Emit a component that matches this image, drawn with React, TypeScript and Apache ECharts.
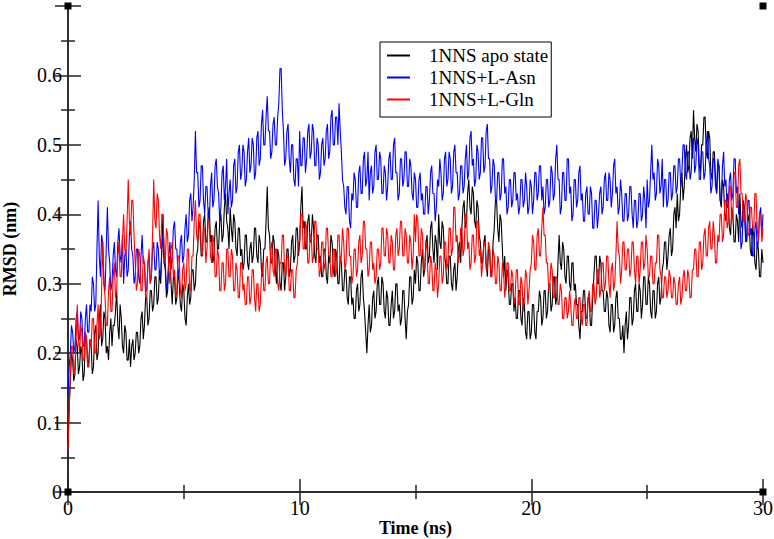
import React, { useEffect, useRef } from "react";
import * as echarts from "echarts";

// Time axis sampling (ns)
const TIME_STEP = 0.05;
const X_TICKS = [0, 10, 20, 30];
const Y_TICKS = [0, 0.1, 0.2, 0.3, 0.4, 0.5, 0.6];
const SERIES_NAMES = ["1NNS apo state", "1NNS+L-Asn", "1NNS+L-Gln"];
const SERIES_COLORS = ["#000000", "#0000ff", "#ff0000"];

// RMSD (nm), one row per ns (20 samples per row)
const apo = [
  0.07, 0.12, 0.16, 0.20, 0.19, 0.16, 0.17, 0.22, 0.21, 0.17, 0.18, 0.21, 0.20, 0.16, 0.17, 0.23, 0.22, 0.18, 0.19, 0.22,
  0.21, 0.17, 0.18, 0.23, 0.24, 0.19, 0.20, 0.25, 0.27, 0.21, 0.22, 0.26, 0.25, 0.20, 0.21, 0.19, 0.23, 0.25, 0.21, 0.24,
  0.24, 0.26, 0.29, 0.24, 0.22, 0.27, 0.25, 0.21, 0.20, 0.24, 0.23, 0.19, 0.19, 0.22, 0.18, 0.21, 0.22, 0.19, 0.20, 0.23,
  0.23, 0.20, 0.21, 0.25, 0.26, 0.22, 0.24, 0.28, 0.28, 0.24, 0.25, 0.29, 0.29, 0.26, 0.27, 0.31, 0.31, 0.27, 0.28, 0.32,
  0.30, 0.35, 0.40, 0.33, 0.32, 0.28, 0.29, 0.33, 0.34, 0.30, 0.27, 0.31, 0.31, 0.27, 0.28, 0.32, 0.30, 0.27, 0.26, 0.30,
  0.29, 0.25, 0.24, 0.28, 0.30, 0.27, 0.28, 0.32, 0.32, 0.29, 0.30, 0.34, 0.35, 0.39, 0.38, 0.34, 0.34, 0.39, 0.40, 0.36,
  0.36, 0.40, 0.41, 0.36, 0.37, 0.33, 0.34, 0.38, 0.39, 0.35, 0.35, 0.39, 0.40, 0.36, 0.37, 0.41, 0.43, 0.39, 0.38, 0.35,
  0.41, 0.38, 0.36, 0.40, 0.39, 0.35, 0.34, 0.38, 0.38, 0.34, 0.35, 0.32, 0.33, 0.37, 0.37, 0.33, 0.32, 0.35, 0.36, 0.33,
  0.34, 0.38, 0.38, 0.34, 0.33, 0.37, 0.36, 0.32, 0.31, 0.35, 0.35, 0.39, 0.44, 0.38, 0.37, 0.33, 0.33, 0.37, 0.36, 0.32,
  0.30, 0.35, 0.34, 0.30, 0.29, 0.33, 0.33, 0.29, 0.31, 0.35, 0.35, 0.31, 0.32, 0.36, 0.37, 0.33, 0.34, 0.38, 0.38, 0.34,
  0.36, 0.41, 0.44, 0.38, 0.39, 0.35, 0.35, 0.39, 0.40, 0.36, 0.36, 0.40, 0.38, 0.34, 0.33, 0.37, 0.37, 0.33, 0.34, 0.31,
  0.31, 0.35, 0.35, 0.31, 0.30, 0.34, 0.33, 0.37, 0.36, 0.32, 0.31, 0.35, 0.34, 0.30, 0.30, 0.34, 0.33, 0.29, 0.29, 0.32,
  0.32, 0.28, 0.27, 0.31, 0.31, 0.27, 0.28, 0.25, 0.25, 0.29, 0.30, 0.26, 0.27, 0.31, 0.32, 0.28, 0.26, 0.23, 0.20, 0.24,
  0.27, 0.23, 0.24, 0.28, 0.29, 0.25, 0.26, 0.30, 0.31, 0.27, 0.27, 0.31, 0.30, 0.26, 0.25, 0.29, 0.28, 0.24, 0.24, 0.27,
  0.29, 0.25, 0.26, 0.30, 0.30, 0.26, 0.27, 0.24, 0.25, 0.29, 0.29, 0.25, 0.22, 0.26, 0.27, 0.31, 0.31, 0.27, 0.28, 0.32,
  0.30, 0.34, 0.33, 0.29, 0.29, 0.33, 0.35, 0.31, 0.32, 0.36, 0.37, 0.33, 0.34, 0.38, 0.39, 0.35, 0.33, 0.37, 0.36, 0.32,
  0.40, 0.36, 0.35, 0.39, 0.38, 0.34, 0.33, 0.30, 0.30, 0.34, 0.34, 0.30, 0.29, 0.32, 0.33, 0.29, 0.31, 0.35, 0.36, 0.33,
  0.38, 0.41, 0.42, 0.38, 0.39, 0.43, 0.45, 0.41, 0.40, 0.44, 0.43, 0.39, 0.38, 0.42, 0.41, 0.37, 0.36, 0.33, 0.33, 0.36,
  0.37, 0.33, 0.31, 0.35, 0.35, 0.31, 0.32, 0.36, 0.38, 0.42, 0.42, 0.38, 0.36, 0.40, 0.39, 0.35, 0.31, 0.34, 0.29, 0.32,
  0.31, 0.27, 0.27, 0.30, 0.30, 0.26, 0.28, 0.25, 0.25, 0.29, 0.29, 0.25, 0.24, 0.28, 0.27, 0.23, 0.22, 0.26, 0.26, 0.22,
  0.23, 0.27, 0.27, 0.23, 0.22, 0.26, 0.26, 0.29, 0.28, 0.24, 0.25, 0.29, 0.29, 0.25, 0.26, 0.30, 0.30, 0.26, 0.27, 0.31,
  0.31, 0.27, 0.28, 0.33, 0.37, 0.33, 0.32, 0.36, 0.35, 0.31, 0.30, 0.34, 0.34, 0.30, 0.29, 0.33, 0.33, 0.29, 0.30, 0.27,
  0.27, 0.24, 0.22, 0.26, 0.26, 0.29, 0.29, 0.25, 0.25, 0.28, 0.28, 0.24, 0.24, 0.28, 0.31, 0.34, 0.34, 0.30, 0.30, 0.34,
  0.33, 0.29, 0.29, 0.26, 0.26, 0.29, 0.28, 0.24, 0.23, 0.27, 0.27, 0.23, 0.24, 0.28, 0.29, 0.25, 0.25, 0.22, 0.22, 0.24,
  0.20, 0.24, 0.26, 0.22, 0.24, 0.28, 0.28, 0.24, 0.25, 0.29, 0.30, 0.26, 0.26, 0.30, 0.29, 0.25, 0.27, 0.31, 0.31, 0.27,
  0.27, 0.31, 0.30, 0.26, 0.25, 0.29, 0.29, 0.25, 0.26, 0.30, 0.31, 0.27, 0.28, 0.32, 0.33, 0.36, 0.36, 0.32, 0.34, 0.37,
  0.38, 0.34, 0.35, 0.40, 0.41, 0.38, 0.43, 0.39, 0.40, 0.44, 0.46, 0.42, 0.44, 0.48, 0.50, 0.46, 0.47, 0.51, 0.52, 0.48,
  0.55, 0.51, 0.49, 0.53, 0.52, 0.47, 0.46, 0.50, 0.50, 0.54, 0.54, 0.49, 0.48, 0.52, 0.51, 0.46, 0.45, 0.49, 0.49, 0.45,
  0.43, 0.47, 0.47, 0.42, 0.41, 0.45, 0.44, 0.40, 0.39, 0.43, 0.42, 0.38, 0.37, 0.41, 0.40, 0.36, 0.36, 0.40, 0.39, 0.36,
  0.43, 0.39, 0.38, 0.42, 0.41, 0.37, 0.36, 0.40, 0.39, 0.35, 0.34, 0.38, 0.37, 0.33, 0.32, 0.36, 0.35, 0.31, 0.31, 0.35,
  0.33,
];

const asn = [
  0.14, 0.18, 0.20, 0.24, 0.23, 0.20, 0.21, 0.25, 0.26, 0.22, 0.22, 0.26, 0.25, 0.21, 0.21, 0.25, 0.27, 0.23, 0.23, 0.27,
  0.26, 0.31, 0.30, 0.26, 0.27, 0.35, 0.42, 0.34, 0.31, 0.37, 0.36, 0.30, 0.29, 0.35, 0.41, 0.35, 0.33, 0.29, 0.30, 0.34,
  0.36, 0.32, 0.31, 0.36, 0.38, 0.34, 0.33, 0.37, 0.30, 0.34, 0.35, 0.31, 0.32, 0.37, 0.39, 0.35, 0.34, 0.30, 0.31, 0.35,
  0.35, 0.31, 0.30, 0.34, 0.37, 0.33, 0.33, 0.29, 0.29, 0.33, 0.34, 0.30, 0.31, 0.35, 0.36, 0.32, 0.32, 0.36, 0.35, 0.31,
  0.31, 0.35, 0.37, 0.33, 0.33, 0.29, 0.30, 0.34, 0.36, 0.32, 0.34, 0.38, 0.39, 0.35, 0.35, 0.31, 0.32, 0.36, 0.37, 0.33,
  0.34, 0.38, 0.40, 0.36, 0.37, 0.42, 0.43, 0.39, 0.41, 0.45, 0.52, 0.46, 0.46, 0.41, 0.42, 0.47, 0.47, 0.42, 0.40, 0.44,
  0.44, 0.40, 0.39, 0.44, 0.46, 0.41, 0.42, 0.47, 0.48, 0.44, 0.43, 0.39, 0.41, 0.46, 0.47, 0.42, 0.44, 0.48, 0.40, 0.43,
  0.45, 0.41, 0.42, 0.47, 0.48, 0.43, 0.44, 0.49, 0.50, 0.45, 0.46, 0.50, 0.49, 0.44, 0.45, 0.49, 0.51, 0.46, 0.47, 0.51,
  0.50, 0.45, 0.46, 0.51, 0.52, 0.47, 0.48, 0.53, 0.55, 0.50, 0.50, 0.54, 0.57, 0.52, 0.52, 0.48, 0.49, 0.53, 0.54, 0.50,
  0.50, 0.54, 0.56, 0.61, 0.61, 0.55, 0.52, 0.47, 0.48, 0.52, 0.53, 0.48, 0.46, 0.50, 0.50, 0.45, 0.44, 0.48, 0.48, 0.44,
  0.52, 0.47, 0.47, 0.51, 0.51, 0.46, 0.48, 0.52, 0.53, 0.48, 0.49, 0.53, 0.52, 0.47, 0.47, 0.51, 0.50, 0.45, 0.46, 0.50,
  0.51, 0.47, 0.48, 0.52, 0.53, 0.48, 0.49, 0.54, 0.55, 0.50, 0.50, 0.54, 0.54, 0.50, 0.56, 0.52, 0.49, 0.45, 0.44, 0.41,
  0.40, 0.44, 0.44, 0.39, 0.38, 0.43, 0.42, 0.46, 0.45, 0.41, 0.41, 0.46, 0.47, 0.43, 0.43, 0.48, 0.49, 0.44, 0.45, 0.49,
  0.42, 0.46, 0.47, 0.43, 0.44, 0.49, 0.50, 0.45, 0.45, 0.49, 0.48, 0.43, 0.43, 0.47, 0.46, 0.42, 0.44, 0.48, 0.49, 0.45,
  0.45, 0.50, 0.51, 0.46, 0.46, 0.42, 0.43, 0.48, 0.48, 0.44, 0.45, 0.49, 0.49, 0.44, 0.44, 0.48, 0.47, 0.43, 0.42, 0.46,
  0.45, 0.41, 0.41, 0.45, 0.46, 0.42, 0.43, 0.40, 0.40, 0.44, 0.44, 0.40, 0.42, 0.46, 0.47, 0.43, 0.43, 0.39, 0.41, 0.45,
  0.44, 0.48, 0.46, 0.42, 0.43, 0.48, 0.49, 0.44, 0.45, 0.49, 0.48, 0.43, 0.44, 0.49, 0.50, 0.46, 0.46, 0.42, 0.43, 0.47,
  0.47, 0.43, 0.44, 0.48, 0.50, 0.45, 0.46, 0.51, 0.52, 0.47, 0.48, 0.44, 0.45, 0.50, 0.49, 0.45, 0.46, 0.51, 0.51, 0.46,
  0.47, 0.52, 0.53, 0.48, 0.48, 0.43, 0.44, 0.48, 0.47, 0.42, 0.42, 0.46, 0.46, 0.42, 0.43, 0.48, 0.48, 0.43, 0.44, 0.40,
  0.41, 0.45, 0.45, 0.41, 0.42, 0.46, 0.46, 0.42, 0.43, 0.40, 0.41, 0.45, 0.45, 0.41, 0.42, 0.46, 0.44, 0.40, 0.41, 0.45,
  0.44, 0.40, 0.42, 0.46, 0.46, 0.42, 0.43, 0.47, 0.47, 0.42, 0.44, 0.40, 0.41, 0.45, 0.45, 0.41, 0.42, 0.47, 0.46, 0.42,
  0.43, 0.48, 0.50, 0.45, 0.45, 0.40, 0.41, 0.46, 0.46, 0.42, 0.42, 0.48, 0.48, 0.43, 0.44, 0.39, 0.40, 0.45, 0.45, 0.41,
  0.42, 0.46, 0.47, 0.42, 0.43, 0.39, 0.39, 0.43, 0.44, 0.40, 0.40, 0.44, 0.43, 0.38, 0.38, 0.42, 0.42, 0.38, 0.40, 0.43,
  0.44, 0.40, 0.41, 0.45, 0.46, 0.42, 0.42, 0.46, 0.45, 0.41, 0.43, 0.47, 0.48, 0.43, 0.44, 0.40, 0.41, 0.45, 0.43, 0.39,
  0.39, 0.43, 0.43, 0.39, 0.40, 0.44, 0.44, 0.40, 0.38, 0.42, 0.42, 0.38, 0.39, 0.43, 0.43, 0.39, 0.40, 0.44, 0.42, 0.38,
  0.45, 0.41, 0.42, 0.46, 0.50, 0.45, 0.46, 0.42, 0.43, 0.48, 0.47, 0.43, 0.44, 0.48, 0.41, 0.45, 0.45, 0.41, 0.42, 0.46,
  0.46, 0.42, 0.43, 0.47, 0.47, 0.43, 0.44, 0.48, 0.48, 0.44, 0.46, 0.50, 0.50, 0.46, 0.45, 0.49, 0.49, 0.45, 0.46, 0.50,
  0.51, 0.46, 0.47, 0.51, 0.50, 0.45, 0.45, 0.49, 0.49, 0.45, 0.46, 0.50, 0.52, 0.48, 0.47, 0.43, 0.44, 0.48, 0.48, 0.44,
  0.43, 0.48, 0.47, 0.42, 0.42, 0.47, 0.49, 0.44, 0.45, 0.41, 0.41, 0.45, 0.46, 0.42, 0.43, 0.48, 0.48, 0.43, 0.44, 0.40,
  0.40, 0.35, 0.36, 0.41, 0.41, 0.36, 0.37, 0.42, 0.42, 0.37, 0.38, 0.34, 0.34, 0.38, 0.39, 0.35, 0.36, 0.40, 0.41, 0.37,
  0.40,
];

const gln = [
  0.06, 0.12, 0.17, 0.21, 0.21, 0.17, 0.18, 0.22, 0.27, 0.22, 0.20, 0.24, 0.23, 0.19, 0.19, 0.23, 0.22, 0.18, 0.18, 0.22,
  0.21, 0.25, 0.25, 0.20, 0.20, 0.24, 0.27, 0.22, 0.23, 0.29, 0.36, 0.30, 0.28, 0.24, 0.24, 0.29, 0.31, 0.26, 0.26, 0.31,
  0.33, 0.28, 0.29, 0.34, 0.36, 0.31, 0.31, 0.36, 0.40, 0.35, 0.34, 0.39, 0.45, 0.39, 0.37, 0.42, 0.42, 0.37, 0.33, 0.29,
  0.30, 0.35, 0.34, 0.29, 0.29, 0.34, 0.33, 0.28, 0.28, 0.33, 0.35, 0.30, 0.31, 0.37, 0.45, 0.39, 0.38, 0.43, 0.42, 0.37,
  0.35, 0.40, 0.40, 0.35, 0.33, 0.38, 0.37, 0.32, 0.30, 0.35, 0.36, 0.31, 0.32, 0.28, 0.29, 0.34, 0.34, 0.29, 0.28, 0.32,
  0.33, 0.29, 0.30, 0.35, 0.35, 0.29, 0.29, 0.34, 0.34, 0.39, 0.42, 0.37, 0.36, 0.40, 0.40, 0.35, 0.34, 0.38, 0.38, 0.33,
  0.35, 0.39, 0.39, 0.34, 0.33, 0.37, 0.36, 0.31, 0.31, 0.35, 0.34, 0.29, 0.29, 0.33, 0.33, 0.29, 0.30, 0.35, 0.35, 0.31,
  0.31, 0.35, 0.34, 0.29, 0.29, 0.33, 0.32, 0.28, 0.28, 0.33, 0.33, 0.29, 0.30, 0.27, 0.27, 0.31, 0.31, 0.27, 0.28, 0.32,
  0.32, 0.28, 0.26, 0.30, 0.30, 0.26, 0.27, 0.31, 0.33, 0.29, 0.29, 0.33, 0.34, 0.30, 0.30, 0.35, 0.36, 0.32, 0.31, 0.35,
  0.35, 0.30, 0.29, 0.33, 0.33, 0.37, 0.37, 0.32, 0.31, 0.34, 0.34, 0.29, 0.29, 0.32, 0.32, 0.28, 0.28, 0.32, 0.33, 0.36,
  0.36, 0.40, 0.40, 0.35, 0.35, 0.39, 0.38, 0.33, 0.33, 0.37, 0.37, 0.33, 0.34, 0.39, 0.39, 0.35, 0.35, 0.31, 0.32, 0.36,
  0.36, 0.32, 0.33, 0.38, 0.38, 0.34, 0.34, 0.31, 0.31, 0.35, 0.35, 0.31, 0.32, 0.37, 0.37, 0.33, 0.34, 0.38, 0.36, 0.32,
  0.33, 0.38, 0.38, 0.34, 0.34, 0.30, 0.31, 0.35, 0.35, 0.31, 0.32, 0.36, 0.37, 0.33, 0.34, 0.39, 0.39, 0.35, 0.35, 0.31,
  0.32, 0.36, 0.36, 0.32, 0.33, 0.30, 0.31, 0.35, 0.35, 0.32, 0.33, 0.38, 0.38, 0.34, 0.34, 0.38, 0.37, 0.33, 0.33, 0.37,
  0.36, 0.32, 0.32, 0.37, 0.38, 0.34, 0.35, 0.39, 0.39, 0.34, 0.34, 0.38, 0.37, 0.33, 0.33, 0.37, 0.36, 0.32, 0.34, 0.40,
  0.36, 0.40, 0.39, 0.34, 0.34, 0.38, 0.37, 0.32, 0.32, 0.36, 0.35, 0.30, 0.30, 0.34, 0.33, 0.29, 0.29, 0.33, 0.32, 0.28,
  0.30, 0.34, 0.34, 0.30, 0.31, 0.36, 0.36, 0.32, 0.33, 0.38, 0.38, 0.34, 0.35, 0.41, 0.41, 0.36, 0.37, 0.33, 0.34, 0.38,
  0.38, 0.34, 0.35, 0.40, 0.40, 0.35, 0.36, 0.32, 0.33, 0.37, 0.37, 0.33, 0.34, 0.39, 0.39, 0.34, 0.35, 0.31, 0.33, 0.36,
  0.36, 0.32, 0.32, 0.36, 0.35, 0.31, 0.31, 0.35, 0.34, 0.30, 0.30, 0.34, 0.33, 0.29, 0.29, 0.33, 0.32, 0.28, 0.30, 0.33,
  0.33, 0.29, 0.29, 0.32, 0.31, 0.27, 0.28, 0.32, 0.32, 0.27, 0.27, 0.31, 0.30, 0.26, 0.28, 0.32, 0.31, 0.27, 0.29, 0.32,
  0.33, 0.37, 0.36, 0.32, 0.32, 0.37, 0.38, 0.34, 0.34, 0.38, 0.41, 0.37, 0.37, 0.33, 0.33, 0.29, 0.30, 0.33, 0.32, 0.28,
  0.28, 0.31, 0.31, 0.27, 0.27, 0.30, 0.29, 0.25, 0.25, 0.28, 0.28, 0.25, 0.26, 0.29, 0.27, 0.24, 0.24, 0.27, 0.28, 0.25,
  0.25, 0.28, 0.28, 0.25, 0.24, 0.27, 0.27, 0.24, 0.24, 0.28, 0.29, 0.26, 0.26, 0.30, 0.30, 0.27, 0.28, 0.32, 0.32, 0.28,
  0.29, 0.33, 0.33, 0.29, 0.30, 0.34, 0.34, 0.30, 0.28, 0.32, 0.33, 0.29, 0.30, 0.34, 0.39, 0.35, 0.34, 0.30, 0.32, 0.36,
  0.36, 0.32, 0.32, 0.35, 0.35, 0.31, 0.32, 0.36, 0.36, 0.32, 0.30, 0.34, 0.34, 0.30, 0.32, 0.36, 0.36, 0.32, 0.33, 0.37,
  0.35, 0.31, 0.31, 0.34, 0.34, 0.30, 0.30, 0.33, 0.33, 0.37, 0.37, 0.32, 0.31, 0.28, 0.28, 0.31, 0.31, 0.28, 0.29, 0.32,
  0.31, 0.28, 0.28, 0.31, 0.30, 0.27, 0.27, 0.30, 0.31, 0.27, 0.28, 0.31, 0.32, 0.29, 0.29, 0.32, 0.31, 0.28, 0.28, 0.32,
  0.32, 0.35, 0.35, 0.31, 0.31, 0.36, 0.36, 0.32, 0.33, 0.37, 0.38, 0.34, 0.34, 0.38, 0.39, 0.35, 0.35, 0.39, 0.37, 0.33,
  0.33, 0.37, 0.36, 0.40, 0.40, 0.36, 0.37, 0.42, 0.42, 0.38, 0.39, 0.44, 0.44, 0.39, 0.40, 0.46, 0.46, 0.41, 0.41, 0.47,
  0.48, 0.43, 0.43, 0.39, 0.39, 0.43, 0.42, 0.37, 0.37, 0.41, 0.41, 0.38, 0.38, 0.43, 0.43, 0.38, 0.36, 0.40, 0.40, 0.36,
  0.38,
];

const SERIES_VALUES = [apo, asn, gln];

const FONT = "'Liberation Serif', 'DejaVu Serif', serif";

export default function App() {
  const ref = useRef<HTMLDivElement>(null);

  useEffect(() => {
    document.body.style.margin = "0";
    if (!ref.current) return;
    const chart = echarts.init(ref.current, undefined, { renderer: "svg" });

    const GL = 68, GR = 11, GT = 6, GB = 47;
    const W = 774, H = 539;

    const tickCommon = {
      axisLine: { show: true, lineStyle: { color: "#222", width: 1.5 } },
      axisTick: { show: true, inside: true, length: 13, lineStyle: { color: "#222", width: 1.5 } },
      minorTick: { show: true, splitNumber: 2, length: 7, lineStyle: { color: "#222", width: 1.5 } },
      splitLine: { show: false },
      minorSplitLine: { show: false },
    };

    const corner = (cx: number, cy: number) => ({
      type: "rect",
      shape: { x: cx - 3.5, y: cy - 3.5, width: 7, height: 7 },
      style: { fill: "#000" },
      z: 100,
    });

    const option: any = {
      animation: false,
      backgroundColor: "#ffffff",
      grid: { left: GL, right: GR, top: GT, bottom: GB, containLabel: false, outerBoundsMode: "none" },
      legend: {
        orient: "vertical",
        left: 380,
        top: 42,
        data: SERIES_NAMES,
        icon: "rect",
        itemWidth: 23,
        itemHeight: 2,
        itemGap: 3,
        padding: [4, 3, 8, 7],
        borderColor: "#000",
        borderWidth: 1,
        backgroundColor: "#fff",
        textStyle: { fontFamily: FONT, fontSize: 19, color: "#000", lineHeight: 19, padding: [0, 0, 0, 14] },
      },
      xAxis: [
        {
          type: "value",
          min: X_TICKS[0],
          max: X_TICKS[X_TICKS.length - 1],
          interval: 10,
          name: "Time (ns)",
          nameLocation: "middle",
          nameGap: 27,
          nameMoveOverlap: false,
          nameTextStyle: { fontFamily: FONT, fontSize: 18, fontWeight: "bold", color: "#000" },
          axisLabel: { fontFamily: FONT, fontSize: 20, color: "#000", margin: 6 },
          ...tickCommon,
        },
        {
          type: "value",
          position: "top",
          min: X_TICKS[0],
          max: X_TICKS[X_TICKS.length - 1],
          interval: 10,
          axisLabel: { show: false },
          ...tickCommon,
        },
      ],
      yAxis: [
        {
          type: "value",
          min: 0,
          max: 0.7,
          interval: 0.1,
          name: "RMSD (nm)",
          nameLocation: "middle",
          nameGap: 49,
          nameMoveOverlap: false,
          nameTextStyle: { fontFamily: FONT, fontSize: 18, fontWeight: "bold", color: "#000" },
          axisLabel: {
            fontFamily: FONT,
            fontSize: 20,
            color: "#000",
            margin: 6,
            showMaxLabel: false,
            formatter: (v: number) => {
              const s = Number(v.toFixed(1));
              return Y_TICKS.some((t) => Math.abs(t - s) < 1e-9) ? String(s) : "";
            },
          },
          ...tickCommon,
        },
        {
          type: "value",
          position: "right",
          min: 0,
          max: 0.7,
          interval: 0.1,
          axisLabel: { show: false },
          ...tickCommon,
        },
      ],
      series: SERIES_VALUES.map((vals, i) => ({
        name: SERIES_NAMES[i],
        type: "line",
        xAxisIndex: 0,
        yAxisIndex: 0,
        showSymbol: false,
        symbol: "none",
        lineStyle: { color: SERIES_COLORS[i], width: 1.1 },
        itemStyle: { color: SERIES_COLORS[i] },
        data: vals.map((v, k) => [Number((k * TIME_STEP).toFixed(3)), v]),
        z: 2 + i,
      })),
      graphic: [
        corner(GL, GT),
        corner(W - GR, GT),
        corner(GL, H - GB),
        corner(W - GR, H - GB),
      ],
    };

    chart.setOption(option);
    return () => chart.dispose();
  }, []);

  return <div ref={ref} style={{ width: 774, height: 539 }} />;
}
